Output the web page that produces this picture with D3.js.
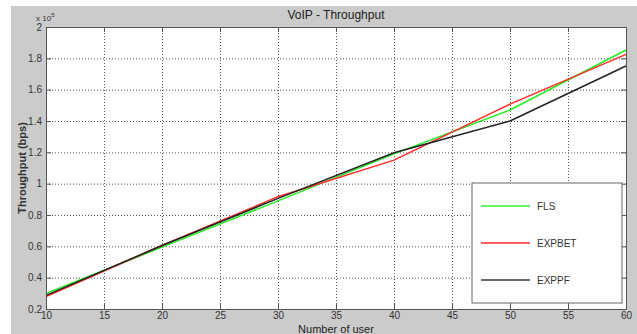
<!DOCTYPE html>
<html>
<head>
<meta charset="utf-8">
<script src="https://cdn.jsdelivr.net/npm/d3@7"></script>
<style>
  body { margin: 0; background: #fff; }
  text { font-family: Arial, "Liberation Sans", sans-serif; }
</style>
</head>
<body>
<figure id="chart" style="margin:0"></figure>
<script>
// data, throughput in units of 1e5 bps
const users = [10, 20, 30, 40, 50, 60];
const flsValues = [0.30, 0.595, 0.89, 1.19, 1.47, 1.853];
const expbetValues = [0.28, 0.605, 0.917, 1.15, 1.508, 1.825];
const exppfValues = [0.287, 0.605, 0.906, 1.197, 1.40, 1.751];
const xTicks = [10, 15, 20, 25, 30, 35, 40, 45, 50, 55, 60];
const yTicks = [0.2, 0.4, 0.6, 0.8, 1, 1.2, 1.4, 1.6, 1.8, 2];

const series = [
  { name: "FLS", values: flsValues, color: "#22ee22" },
  { name: "EXPBET", values: expbetValues, color: "#ff2a2a" },
  { name: "EXPPF", values: exppfValues, color: "#222222" }
];

const width = 637, height = 334;
const margin = { left: 46, right: 11, top: 27, bottom: 25 };
const plotW = width - margin.left - margin.right;
const plotH = height - margin.top - margin.bottom;

const svg = d3.select("figure#chart")
  .append("svg")
  .attr("width", width)
  .attr("height", height);

// grey figure background
svg.append("rect")
  .attr("x", 11).attr("y", 6)
  .attr("width", width - 11).attr("height", height - 6)
  .attr("fill", "#cbcbcb");

const g = svg.append("g")
  .attr("transform", "translate(" + margin.left + "," + margin.top + ")");

const x = d3.scaleLinear().domain([10, 60]).range([0, plotW]);
const y = d3.scaleLinear().domain([0.2, 2]).range([plotH, 0]);

g.append("rect")
  .attr("width", plotW).attr("height", plotH)
  .attr("fill", "#fff");

// dotted grid
g.append("g")
  .call(d3.axisBottom(x).tickValues(xTicks).tickSize(plotH).tickFormat(""))
  .call(a => a.select(".domain").remove())
  .selectAll("line")
  .attr("stroke", "#777")
  .attr("stroke-dasharray", "1,2");

g.append("g")
  .call(d3.axisRight(y).tickValues(yTicks).tickSize(plotW).tickFormat(""))
  .call(a => a.select(".domain").remove())
  .selectAll("line")
  .attr("stroke", "#777")
  .attr("stroke-dasharray", "1,2");

// lines
const line = d3.line()
  .x((d, i) => x(users[i]))
  .y(d => y(d));

series.forEach(s => {
  g.append("path")
    .datum(s.values)
    .attr("fill", "none")
    .attr("stroke", s.color)
    .attr("stroke-width", 1.5)
    .attr("d", line);
});

// axes with inward ticks
const axisColor = "#555";
const xAxis = g.append("g")
  .attr("transform", "translate(0," + plotH + ")")
  .call(d3.axisBottom(x).tickValues(xTicks).tickSizeInner(-5).tickSizeOuter(0));
const yAxis = g.append("g")
  .call(d3.axisLeft(y).tickValues(yTicks).tickSizeInner(-5).tickSizeOuter(0)
    .tickFormat(d => d3.format("")(+d.toFixed(1))));
g.append("g")
  .call(d3.axisTop(x).tickValues(xTicks).tickSizeInner(-5).tickSizeOuter(0).tickFormat(""));
g.append("g")
  .attr("transform", "translate(" + plotW + ",0)")
  .call(d3.axisRight(y).tickValues(yTicks).tickSizeInner(-5).tickSizeOuter(0).tickFormat(""));

g.selectAll(".domain, .tick line").attr("stroke", axisColor);
g.selectAll(".tick text")
  .attr("fill", "#333")
  .style("font-size", "10px");
xAxis.selectAll(".tick text").attr("y", 3).attr("dy", "0.71em");
yAxis.selectAll(".tick text").attr("x", -4);

// exponent label
const expo = svg.append("text")
  .attr("x", 36).attr("y", 21)
  .attr("fill", "#333")
  .style("font-size", "8px")
  .text("x 10");
expo.append("tspan")
  .attr("dy", -4)
  .style("font-size", "6px")
  .text("5");

// title and axis labels
svg.append("text")
  .attr("x", margin.left + plotW / 2).attr("y", 19)
  .attr("text-anchor", "middle")
  .attr("fill", "#222")
  .style("font-size", "12px")
  .text("VoIP - Throughput");

svg.append("text")
  .attr("x", margin.left + plotW / 2).attr("y", 332.5)
  .attr("text-anchor", "middle")
  .attr("fill", "#222")
  .style("font-size", "11px")
  .text("Number of user");

svg.append("text")
  .attr("transform", "translate(26," + (margin.top + plotH / 2) + ") rotate(-90)")
  .attr("text-anchor", "middle")
  .attr("fill", "#333")
  .style("font-size", "11px")
  .style("font-weight", "bold")
  .text("Throughput (bps)");

// legend
const legend = svg.append("g").attr("transform", "translate(472,183)");
legend.append("rect")
  .attr("width", 150).attr("height", 120)
  .attr("fill", "#fff")
  .attr("stroke", "#666");
const legendColors = ["#66f566", "#ff6060", "#6a6a6a"];
series.forEach((s, i) => {
  const ly = 23 + i * 37;
  legend.append("line")
    .attr("x1", 9).attr("x2", 58)
    .attr("y1", ly).attr("y2", ly)
    .attr("stroke", legendColors[i])
    .attr("stroke-width", 2);
  legend.append("text")
    .attr("x", 65).attr("y", ly + 4)
    .attr("fill", "#333")
    .style("font-size", "10px")
    .text(s.name);
});
</script>
</body>
</html>
